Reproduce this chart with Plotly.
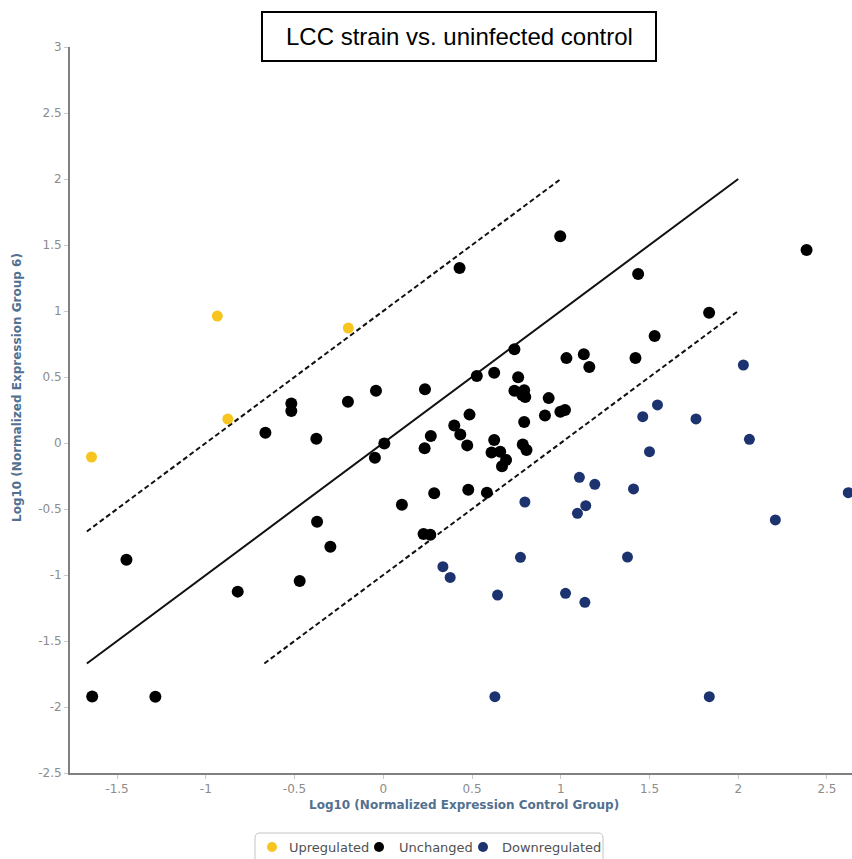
import plotly.graph_objects as go

# Log10 normalized expression: control group (x) vs. group 6 (y)
up_x = [-1.644, -0.935, -0.876, -0.197]
up_y = [-0.106, 0.962, 0.181, 0.871]

unchanged_x = [-1.640, -1.284, -1.447, -0.820, -0.471, -0.298, -0.373, -0.664,
               -0.518, -0.518, -0.377, -0.199, -0.041, -0.047, 0.006, 0.105,
               0.227, 0.265, 0.287, 0.233, 0.268, 0.235, 0.400, 0.434,
               0.473, 0.486, 0.479, 0.584, 0.527, 0.625, 0.739, 0.760,
               0.739, 0.794, 0.783, 0.800, 0.794, 0.625, 0.610, 0.659,
               0.692, 0.669, 0.786, 0.807, 0.932, 0.911, 0.998, 1.024,
               1.032, 1.130, 1.161, 1.421, 1.529, 1.836, 0.430, 0.997,
               1.436, 2.385]
unchanged_y = [-1.921, -1.922, -0.884, -1.126, -1.045, -0.786, -0.596, 0.078,
               0.300, 0.242, 0.033, 0.313, 0.396, -0.111, -0.003, -0.468,
               -0.689, -0.695, -0.380, -0.040, 0.053, 0.407, 0.133, 0.064,
               -0.018, 0.215, -0.354, -0.376, 0.508, 0.533, 0.711, 0.498,
               0.395, 0.400, 0.364, 0.348, 0.159, 0.023, -0.072, -0.066,
               -0.129, -0.177, -0.012, -0.053, 0.340, 0.209, 0.237, 0.250,
               0.643, 0.673, 0.576, 0.644, 0.810, 0.986, 1.325, 1.566,
               1.280, 1.462]

down_x = [2.029, 1.545, 1.462, 1.762, 2.063, 1.500, 1.105, 1.192, 1.410,
          2.620, 0.798, 1.141, 1.094, 2.209, 0.773, 1.376, 0.336, 0.377,
          0.644, 1.027, 1.136, 0.629, 1.837]
down_y = [0.591, 0.288, 0.199, 0.182, 0.028, -0.066, -0.260, -0.313, -0.348,
          -0.376, -0.447, -0.475, -0.533, -0.583, -0.866, -0.864, -0.937, -1.018,
          -1.152, -1.139, -1.207, -1.922, -1.922]

# Reference diagonal (y = x) and the +/- 1 log fold-change boundaries
diag_x = [-1.67, 2.0]
upper_x = [-1.67, 1.0]
lower_x = [-0.67, 2.0]
fold_offset = 1.0

x_ticks = [-1.5, -1, -0.5, 0, 0.5, 1, 1.5, 2, 2.5]
y_ticks = [-2.5, -2, -1.5, -1, -0.5, 0, 0.5, 1, 1.5, 2, 2.5, 3]

series_names = ["Upregulated", "Unchanged", "Downregulated"]
series_colors = ["#f7c520", "#000000", "#1c3370"]

title_text = "LCC strain vs. uninfected control"
x_title = "Log10 (Normalized Expression Control Group)"
y_title = "Log10 (Normalized Expression Group 6)"

# Page geometry (pixels) used to place the decorations around the plot area
W, H = 852, 859
ML, MR, MT, MB = 70, 0, 47, 86
PW, PH = W - ML - MR, H - MT - MB


def px(x):
    return (x - ML) / PW


def py(y):
    return (H - MB - y) / PH


fig = go.Figure()

line_style = dict(color="#111111", width=2)
dash_style = dict(color="#111111", width=2, dash="5px,3px")
fig.add_trace(go.Scatter(x=diag_x, y=[v for v in diag_x], mode="lines",
                         line=line_style, showlegend=False, hoverinfo="skip"))
fig.add_trace(go.Scatter(x=upper_x, y=[v + fold_offset for v in upper_x], mode="lines",
                         line=dash_style, showlegend=False, hoverinfo="skip"))
fig.add_trace(go.Scatter(x=lower_x, y=[v - fold_offset for v in lower_x], mode="lines",
                         line=dash_style, showlegend=False, hoverinfo="skip"))

for name, color, xs, ys, size in zip(series_names, series_colors,
                                     [up_x, unchanged_x, down_x],
                                     [up_y, unchanged_y, down_y],
                                     [11, 12, 11]):
    fig.add_trace(go.Scatter(x=xs, y=ys, mode="markers", name=name, showlegend=False,
                             marker=dict(color=color, size=size, line=dict(width=0))))

axis_common = dict(
    showgrid=False, zeroline=False, showline=True, linecolor="#808080", linewidth=2,
    ticks="outside", ticklen=4, tickwidth=1, tickcolor="#c8c8c8",
    tickfont=dict(family="DejaVu Sans", size=12, color="#8c8c8c"),
)

fig.update_xaxes(range=[-1.765, 2.641], tickvals=x_ticks,
                 ticktext=[f"{t:g}" for t in x_ticks], **axis_common)
fig.update_yaxes(range=[-2.5, 3.0], tickvals=y_ticks,
                 ticktext=[f"{t:g}" for t in y_ticks], **axis_common)

# Title box
shapes = [dict(type="rect", xref="paper", yref="paper",
               x0=px(262), x1=px(656), y0=py(61), y1=py(12),
               line=dict(color="black", width=2), fillcolor="white")]

# Legend box with rounded top corners, running off the bottom of the page
lx0, lx1, ly0, ly1, r = 255, 603, 833, 875, 5
path = (f"M {px(lx0)},{py(ly1)} L {px(lx0)},{py(ly0 + r)} "
        f"Q {px(lx0)},{py(ly0)} {px(lx0 + r)},{py(ly0)} "
        f"L {px(lx1 - r)},{py(ly0)} Q {px(lx1)},{py(ly0)} {px(lx1)},{py(ly0 + r)} "
        f"L {px(lx1)},{py(ly1)}")
shapes.append(dict(type="path", xref="paper", yref="paper", path=path,
                   line=dict(color="#c4c4c4", width=1), fillcolor="white"))

annotations = [
    dict(text=title_text, xref="paper", yref="paper", x=px(459), y=py(36.5),
         xanchor="center", yanchor="middle", showarrow=False,
         font=dict(family="Liberation Sans", size=24, color="black")),
    dict(text=f"<b>{x_title}</b>", xref="paper", yref="paper", x=px(464), y=py(805),
         xanchor="center", yanchor="middle", showarrow=False,
         font=dict(family="DejaVu Sans", size=12, color="#52708f")),
    dict(text=f"<b>{y_title}</b>", xref="paper", yref="paper", x=px(17), y=py(388),
         xanchor="center", yanchor="middle", showarrow=False, textangle=-90,
         font=dict(family="DejaVu Sans", size=12, color="#52708f")),
]

legend_sym_x = [272, 379, 483]
legend_txt_x = [287, 397, 500]
legend_cy = 847
for name, color, sx, tx in zip(series_names, series_colors, legend_sym_x, legend_txt_x):
    shapes.append(dict(type="circle", xref="paper", yref="paper",
                       x0=px(sx - 5), x1=px(sx + 5), y0=py(legend_cy + 5), y1=py(legend_cy - 5),
                       line=dict(width=0), fillcolor=color))
    annotations.append(dict(text=name, xref="paper", yref="paper", x=px(tx), y=py(legend_cy),
                            xanchor="left", yanchor="middle", showarrow=False,
                            font=dict(family="DejaVu Sans", size=13, color="#505050")))

fig.update_layout(
    width=W, height=H,
    margin=dict(l=ML, r=MR, t=MT, b=MB),
    paper_bgcolor="white", plot_bgcolor="white",
    showlegend=False,
    shapes=shapes,
    annotations=annotations,
)

fig.write_html("out.html")
